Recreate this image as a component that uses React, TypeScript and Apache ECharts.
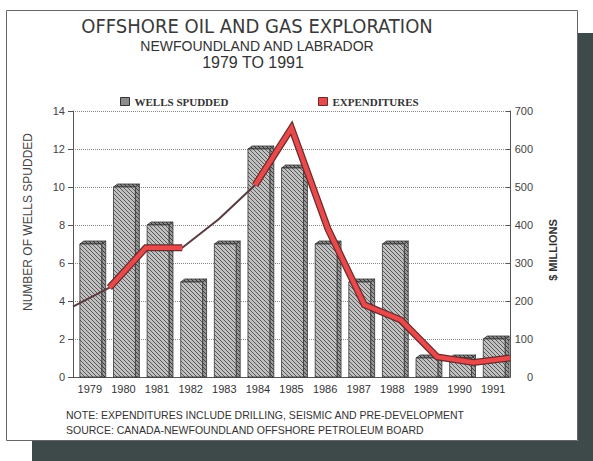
import React, { useEffect, useRef } from 'react';
import * as echarts from 'echarts';

const years = ['1979', '1980', '1981', '1982', '1983', '1984', '1985', '1986', '1987', '1988', '1989', '1990', '1991'];
const wellsSpudded = [7, 10, 8, 5, 7, 12, 11, 7, 5, 7, 1, 1, 2];
const expenditures = [185, 235, 340, 340, 415, 505, 655, 390, 190, 150, 53, 38, 50];
const wellsTicks = { min: 0, max: 14, interval: 2 };
const moneyTicks = { min: 0, max: 700, interval: 100 };

const titleLines = ['OFFSHORE OIL AND GAS EXPLORATION', 'NEWFOUNDLAND AND LABRADOR', '1979 TO 1991'];
const noteLines = [
  'NOTE: EXPENDITURES INCLUDE DRILLING, SEISMIC AND PRE-DEVELOPMENT',
  'SOURCE: CANADA-NEWFOUNDLAND OFFSHORE PETROLEUM BOARD',
];

function makeHatch(bg: string, fg: string) {
  const c = document.createElement('canvas');
  c.width = 4;
  c.height = 4;
  const ctx = c.getContext('2d')!;
  ctx.fillStyle = bg;
  ctx.fillRect(0, 0, 4, 4);
  ctx.strokeStyle = fg;
  ctx.lineWidth = 1;
  ctx.beginPath();
  ctx.moveTo(-1, -1);
  ctx.lineTo(5, 5);
  ctx.moveTo(-1, 3);
  ctx.lineTo(1, 5);
  ctx.moveTo(3, -1);
  ctx.lineTo(5, 1);
  ctx.stroke();
  return { image: c.toDataURL(), repeat: 'repeat', imageWidth: 4, imageHeight: 4 } as any;
}

export default function App() {
  const ref = useRef<HTMLDivElement>(null);
  useEffect(() => {
    if (!ref.current) return;
    const chart = echarts.init(ref.current, undefined, { renderer: 'svg' });
    const hatchFront = makeHatch('#c0c0c0', '#5a5a5a');
    const hatchSide = makeHatch('#9a9a9a', '#3e3e3e');
    const hatchTop = makeHatch('#8a8a8a', '#2e2e2e');
    const ribbon = expenditures.map((v, i) => (i === 0 || i === 4 ? '-' : v));
    const sans = "'Liberation Sans', Arial, sans-serif";
    const narrow = "'Liberation Sans Narrow', 'DejaVu Sans Condensed', sans-serif";

    const option: any = {
      animation: false,
      backgroundColor: '#ffffff',
      grid: { left: 73, right: 83, top: 111, bottom: 84, containLabel: false },
      legend: [
        {
          left: 115,
          top: 91,
          itemWidth: 9,
          itemHeight: 8,
          selectedMode: false,
          textStyle: { fontFamily: "'Liberation Serif', serif", fontSize: 11, fontWeight: 'bold', color: '#333' },
          data: [{ name: 'WELLS SPUDDED', icon: 'rect', itemStyle: { color: '#8c8c8c', borderColor: '#333', borderWidth: 1 } }],
        },
        {
          left: 313,
          top: 91,
          itemWidth: 9,
          itemHeight: 8,
          selectedMode: false,
          textStyle: { fontFamily: "'Liberation Serif', serif", fontSize: 11, fontWeight: 'bold', color: '#333' },
          data: [{ name: 'EXPENDITURES', icon: 'rect', itemStyle: { color: '#e84a4c', borderColor: '#6a2a2a', borderWidth: 1 } }],
        },
      ],
      xAxis: [
        {
          type: 'category',
          data: years,
          boundaryGap: true,
          axisLine: { lineStyle: { color: '#555', width: 1 } },
          axisTick: { show: false },
          axisLabel: { color: '#333', fontFamily: sans, fontSize: 11, margin: 6 },
        },
        {
          type: 'category',
          data: years,
          boundaryGap: false,
          position: 'top',
          axisLine: { show: true, lineStyle: { color: '#555', width: 1 } },
          axisTick: { show: false },
          axisLabel: { show: false },
        },
      ],
      yAxis: [
        {
          type: 'value',
          min: wellsTicks.min,
          max: wellsTicks.max,
          interval: wellsTicks.interval,
          axisLine: { show: true, lineStyle: { color: '#555', width: 1 } },
          axisTick: { show: true, length: 5, lineStyle: { color: '#555' } },
          axisLabel: { color: '#444', fontFamily: sans, fontSize: 11, margin: 8 },
          splitLine: { show: true, lineStyle: { color: '#888', type: 'dotted', width: 1 } },
        },
        {
          type: 'value',
          min: moneyTicks.min,
          max: moneyTicks.max,
          interval: moneyTicks.interval,
          position: 'right',
          axisLine: { show: true, lineStyle: { color: '#555', width: 1 } },
          axisTick: { show: true, inside: true, length: 4, lineStyle: { color: '#555' } },
          axisLabel: { color: '#444', fontFamily: sans, fontSize: 11, margin: 23, align: 'right' },
          splitLine: { show: false },
        },
      ],
      series: [
        {
          name: 'WELLS SPUDDED',
          type: 'custom',
          xAxisIndex: 0,
          yAxisIndex: 0,
          z: 2,
          itemStyle: { color: '#8c8c8c' },
          data: wellsSpudded.map((v, i) => [i, v]),
          encode: { x: 0, y: 1 },
          renderItem: (params: any, api: any) => {
            const idx = api.value(0);
            const v = api.value(1);
            const top = api.coord([idx, v]);
            const base = api.coord([idx, 0]);
            const band = api.size([1, 0])[0];
            const fw = band * 0.65;
            const d = 4;
            const dy = 3;
            const x0 = top[0] - fw / 2 + 1;
            const ty = top[1];
            const by = base[1];
            return {
              type: 'group',
              children: [
                {
                  type: 'polygon',
                  shape: { points: [[x0 + fw, ty], [x0 + fw + d, ty - dy], [x0 + fw + d, by], [x0 + fw, by]] },
                  style: { fill: hatchSide, stroke: '#333', lineWidth: 0.8 },
                },
                {
                  type: 'polygon',
                  shape: { points: [[x0, ty], [x0 + d, ty - dy], [x0 + fw + d, ty - dy], [x0 + fw, ty]] },
                  style: { fill: hatchTop, stroke: '#333', lineWidth: 0.8 },
                },
                {
                  type: 'rect',
                  shape: { x: x0, y: ty, width: fw, height: by - ty },
                  style: { fill: hatchFront, stroke: '#333', lineWidth: 0.8 },
                },
              ],
            };
          },
        },
        {
          name: 'expenditures-trace',
          type: 'line',
          xAxisIndex: 1,
          yAxisIndex: 1,
          z: 3,
          symbol: 'none',
          data: expenditures,
          lineStyle: { color: '#5a3a3e', width: 2 },
        },
        {
          name: 'expenditures-edge',
          type: 'line',
          xAxisIndex: 1,
          yAxisIndex: 1,
          z: 4,
          symbol: 'none',
          data: ribbon,
          lineStyle: { color: '#6e2a2c', width: 7, join: 'miter' },
        },
        {
          name: 'EXPENDITURES',
          type: 'line',
          xAxisIndex: 1,
          yAxisIndex: 1,
          z: 5,
          symbol: 'none',
          data: ribbon,
          itemStyle: { color: '#e84a4c' },
          lineStyle: { color: '#e84a4c', width: 4.5, join: 'miter' },
        },
      ],
      graphic: [
        { type: 'rect', z: -20, silent: true, shape: { x: 578, y: 33, width: 15, height: 428 }, style: { fill: '#3e4949' } },
        { type: 'rect', z: -20, silent: true, shape: { x: 32, y: 441, width: 561, height: 20 }, style: { fill: '#3e4949' } },
        { type: 'rect', z: -19, silent: true, shape: { x: 6.5, y: 10.5, width: 571, height: 430 }, style: { fill: '#ffffff', stroke: '#666', lineWidth: 1 } },
        { type: 'text', z: 50, x: 257, y: 26, style: { text: titleLines[0], fontFamily: narrow, fontSize: 20, fill: '#3a3a3a', align: 'center', verticalAlign: 'middle' } },
        { type: 'text', z: 50, x: 257, y: 46, style: { text: titleLines[1], fontFamily: sans, fontSize: 14, fill: '#333', align: 'center', verticalAlign: 'middle' } },
        { type: 'text', z: 50, x: 253, y: 62, style: { text: titleLines[2], fontFamily: sans, fontSize: 16, fill: '#333', align: 'center', verticalAlign: 'middle' } },
        { type: 'text', z: 50, x: 28, y: 222, rotation: Math.PI / 2, style: { text: 'NUMBER OF WELLS SPUDDED', fontFamily: sans, fontSize: 12, fill: '#444', align: 'center', verticalAlign: 'middle' } },
        { type: 'text', z: 50, x: 553, y: 250, rotation: Math.PI / 2, style: { text: '$ MILLIONS', fontFamily: sans, fontSize: 11, fontWeight: 'bold', fill: '#333', align: 'center', verticalAlign: 'middle' } },
        { type: 'text', z: 50, x: 66, y: 415, style: { text: noteLines[0], fontFamily: sans, fontSize: 10.5, fill: '#333', align: 'left', verticalAlign: 'middle' } },
        { type: 'text', z: 50, x: 66, y: 430, style: { text: noteLines[1], fontFamily: sans, fontSize: 10.5, fill: '#333', align: 'left', verticalAlign: 'middle' } },
      ],
    };
    chart.setOption(option);
    return () => chart.dispose();
  }, []);
  return <div ref={ref} style={{ position: 'fixed', left: 0, top: 0, width: 593, height: 461 }} />;
}
